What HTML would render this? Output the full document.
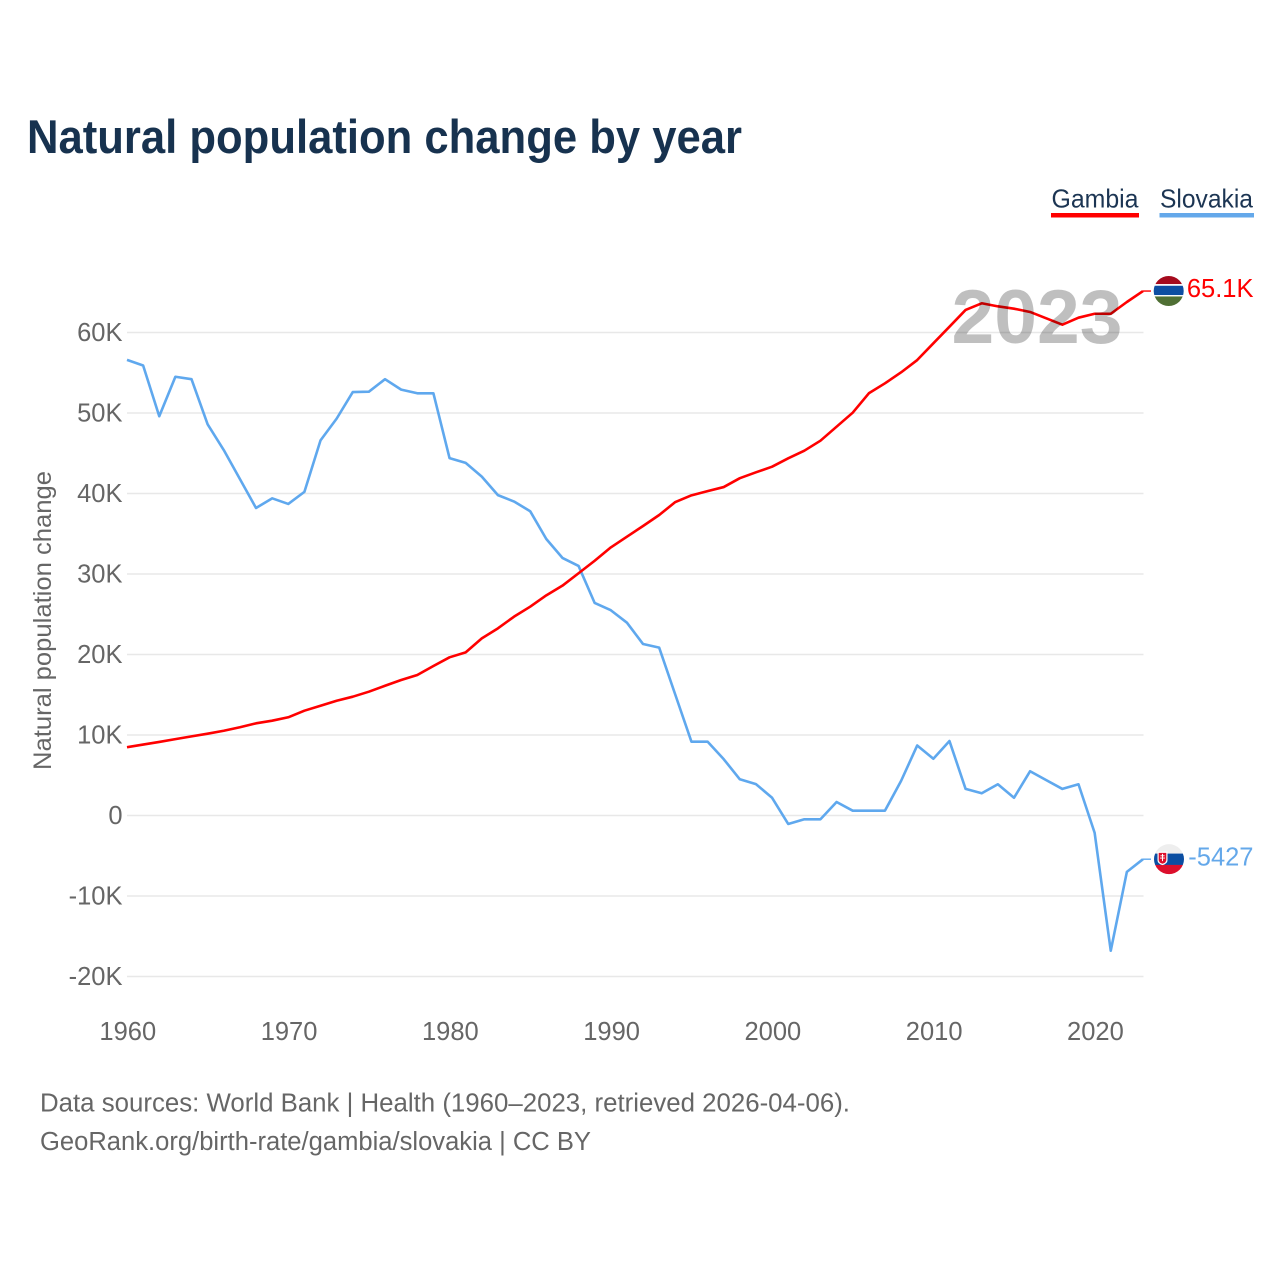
<!DOCTYPE html>
<html lang="en">
<head>
<meta charset="utf-8">
<title>Natural population change by year</title>
<style>
html,body{margin:0;padding:0;background:#fff;}
svg{display:block;font-family:"Liberation Sans",sans-serif;}
</style>
</head>
<body>
<svg id="chart" xmlns="http://www.w3.org/2000/svg" width="1280" height="1280" viewBox="0 0 1280 1280">
  <defs>
    <clipPath id="flag-clip"><circle cx="0" cy="0" r="15"></circle></clipPath>
  </defs>
  <rect x="0" y="0" width="1280" height="1280" fill="#fff"></rect>
  <text x="27" y="153" font-size="47" font-weight="700" fill="#17324f" textLength="715" lengthAdjust="spacingAndGlyphs">Natural population change by year</text>

  <g>
    <g>
      <text x="1051.5" y="207.5" font-size="26" fill="#1c3553" textLength="87" lengthAdjust="spacingAndGlyphs">Gambia</text>
      <rect x="1051" y="213" width="88" height="4.5" fill="#ff0000"></rect>
    </g>
    <g>
      <text x="1160" y="207.5" font-size="26" fill="#1c3553" textLength="93" lengthAdjust="spacingAndGlyphs">Slovakia</text>
      <rect x="1159.5" y="213" width="94.5" height="4.5" fill="#64a8ea"></rect>
    </g>
  </g>

  <g id="grid"></g>
  <g id="y-axis"></g>
  <g id="x-axis"></g>
  <text transform="translate(51 620.5) rotate(-90)" text-anchor="middle" font-size="25" fill="#666" textLength="299" lengthAdjust="spacingAndGlyphs">Natural population change</text>

  <g id="series"></g>

  <text x="1037" y="343" text-anchor="middle" font-size="76" font-weight="700" fill="#000" fill-opacity="0.25" textLength="171" lengthAdjust="spacingAndGlyphs">2023</text>

  <g id="flag-gambia">
    <g clip-path="url(#flag-clip)">
      <rect x="-16" y="-16" width="32" height="32" fill="#fff"></rect>
      <rect x="-16" y="-16" width="32" height="9" fill="#a50a1d"></rect>
      <rect x="-16" y="-5.3" width="32" height="9.3" fill="#0c4da2"></rect>
      <rect x="-16" y="5.4" width="32" height="11" fill="#4f6f34"></rect>
    </g>
  </g>
  <g id="flag-slovakia">
    <g clip-path="url(#flag-clip)">
      <rect x="-16" y="-16" width="32" height="10.5" fill="#eeeeee"></rect>
      <rect x="-16" y="-5.6" width="32" height="11.4" fill="#0b4ea2"></rect>
      <rect x="-16" y="5.7" width="32" height="11" fill="#dc0f2c"></rect>
      <path d="M-11.5 -7.5H-1.5V1Q-1.5 4.5 -6.5 6Q-11.5 4.5 -11.5 1Z" fill="#fff"></path>
      <path d="M-10.3 -6.3H-2.7V0.8Q-2.7 3.4 -6.5 4.6Q-10.3 3.4 -10.3 0.8Z" fill="#dc0f2c"></path>
      <path d="M-7 -5.3H-6V-3.8H-4.4V-2.9H-6V-1.6H-4V-0.7H-6V2H-7V-0.7H-9V-1.6H-7V-2.9H-8.6V-3.8H-7Z" fill="#fff"></path>
    </g>
  </g>
  <g id="end-labels"></g>

  <g>
    <text x="40" y="1111.5" font-size="25.5" fill="#666" textLength="810" lengthAdjust="spacingAndGlyphs">Data sources: World Bank | Health (1960–2023, retrieved 2026-04-06).</text>
    <text x="40" y="1150" font-size="25.5" fill="#666" textLength="551" lengthAdjust="spacingAndGlyphs">GeoRank.org/birth-rate/gambia/slovakia | CC BY</text>
  </g>
</svg>
<script>
const years = [1960,1961,1962,1963,1964,1965,1966,1967,1968,1969,1970,1971,1972,1973,1974,1975,1976,1977,1978,1979,1980,1981,1982,1983,1984,1985,1986,1987,1988,1989,1990,1991,1992,1993,1994,1995,1996,1997,1998,1999,2000,2001,2002,2003,2004,2005,2006,2007,2008,2009,2010,2011,2012,2013,2014,2015,2016,2017,2018,2019,2020,2021,2022,2023];
const gambiaValues = [8.48,8.81,9.14,9.49,9.83,10.16,10.53,10.96,11.45,11.78,12.2,13.02,13.64,14.26,14.76,15.38,16.12,16.83,17.45,18.57,19.65,20.27,22.0,23.25,24.7,25.94,27.35,28.55,30.09,31.65,33.3,34.64,35.96,37.33,38.94,39.77,40.3,40.8,41.9,42.63,43.33,44.37,45.32,46.56,48.3,50.04,52.45,53.69,55.05,56.58,58.66,60.72,62.8,63.63,63.25,62.96,62.55,61.76,60.97,61.84,62.33,62.33,63.79,65.15];
const slovakiaValues = [56.6,55.9,49.6,54.5,54.2,48.6,45.4,41.8,38.2,39.4,38.7,40.2,46.6,49.3,52.6,52.65,54.2,52.9,52.45,52.45,44.4,43.8,42.1,39.8,39.0,37.8,34.35,32.0,31.0,26.4,25.5,23.95,21.3,20.85,15.0,9.17,9.17,7.0,4.5,3.9,2.2,-1.05,-0.47,-0.47,1.68,0.6,0.6,0.6,4.3,8.7,7.05,9.25,3.3,2.76,3.88,2.2,5.5,4.4,3.3,3.88,-2.14,-16.8,-7.0,-5.427];
const yTickValues = [60,50,40,30,20,10,0,-10,-20];
const yTickLabels = ["60K","50K","40K","30K","20K","10K","0","-10K","-20K"];
const xTickYears = [1960,1970,1980,1990,2000,2010,2020];
const gambiaEndLabel = "65.1K";
const slovakiaEndLabel = "-5427";

const SVG_NS = "http://www.w3.org/2000/svg";
function xScale(year){ return 127 + (year - 1960) * 16.127; }
function yScale(value){ return 815.5 - value * 8.05; }
function make(tag, attrs, parent){
  const el = document.createElementNS(SVG_NS, tag);
  for (const k in attrs) el.setAttribute(k, attrs[k]);
  parent.appendChild(el);
  return el;
}

const gridGroup = document.getElementById("grid");
const yAxisGroup = document.getElementById("y-axis");
const xAxisGroup = document.getElementById("x-axis");
const seriesGroup = document.getElementById("series");
const endLabelGroup = document.getElementById("end-labels");

yTickValues.forEach(function(value, i){
  const line = make("line", {x1:127, x2:1143.5, y1:yScale(value), y2:yScale(value), stroke:"#e8e8e8", "stroke-width":1.4}, gridGroup);
  
  
  const label = make("text", {x:122.5, y:yScale(value)+8.5, "text-anchor":"end", "font-size":25.5, fill:"#666"}, yAxisGroup);
  label.textContent = yTickLabels[i];
  
  
});

xTickYears.forEach(function(year){
  const label = make("text", {x:xScale(year)+0.8, y:1040, "text-anchor":"middle", "font-size":25.5, fill:"#666"}, xAxisGroup);
  label.textContent = String(year);
  
  
});

function linePath(values){
  return values.map(function(v, i){
    return (i ? "L" : "M") + xScale(years[i]).toFixed(2) + " " + yScale(v).toFixed(2);
  }).join("");
}

const slovakiaLine = make("path", {d:linePath(slovakiaValues), fill:"none", stroke:"#5fa8ee", "stroke-width":2.6, "stroke-linejoin":"round"}, seriesGroup);


const gambiaLine = make("path", {d:linePath(gambiaValues), fill:"none", stroke:"#ff0000", "stroke-width":2.6, "stroke-linejoin":"round"}, seriesGroup);



const lastX = xScale(years[years.length - 1]);
const gambiaEndY = yScale(gambiaValues[gambiaValues.length - 1]);
const slovakiaEndY = yScale(slovakiaValues[slovakiaValues.length - 1]);

const gambiaLeader = make("line", {x1:lastX, x2:lastX+8, y1:gambiaEndY, y2:gambiaEndY, stroke:"#ff0000", "stroke-width":1.4}, seriesGroup);


const slovakiaLeader = make("line", {x1:lastX, x2:lastX+8, y1:slovakiaEndY, y2:slovakiaEndY, stroke:"#5fa8ee", "stroke-width":1.4}, seriesGroup);



document.getElementById("flag-gambia").setAttribute("transform", "translate(1168.7 " + gambiaEndY + ")");
document.getElementById("flag-slovakia").setAttribute("transform", "translate(1169 " + slovakiaEndY + ")");

const gambiaText = make("text", {x:1253.5, y:gambiaEndY+5.8, "text-anchor":"end", "font-size":25.5, fill:"#ff0000"}, endLabelGroup);
gambiaText.textContent = gambiaEndLabel;


const slovakiaText = make("text", {x:1253.5, y:slovakiaEndY+6.2, "text-anchor":"end", "font-size":25.5, fill:"#64a8ea"}, endLabelGroup);
slovakiaText.textContent = slovakiaEndLabel;


</script>
</body>
</html>
